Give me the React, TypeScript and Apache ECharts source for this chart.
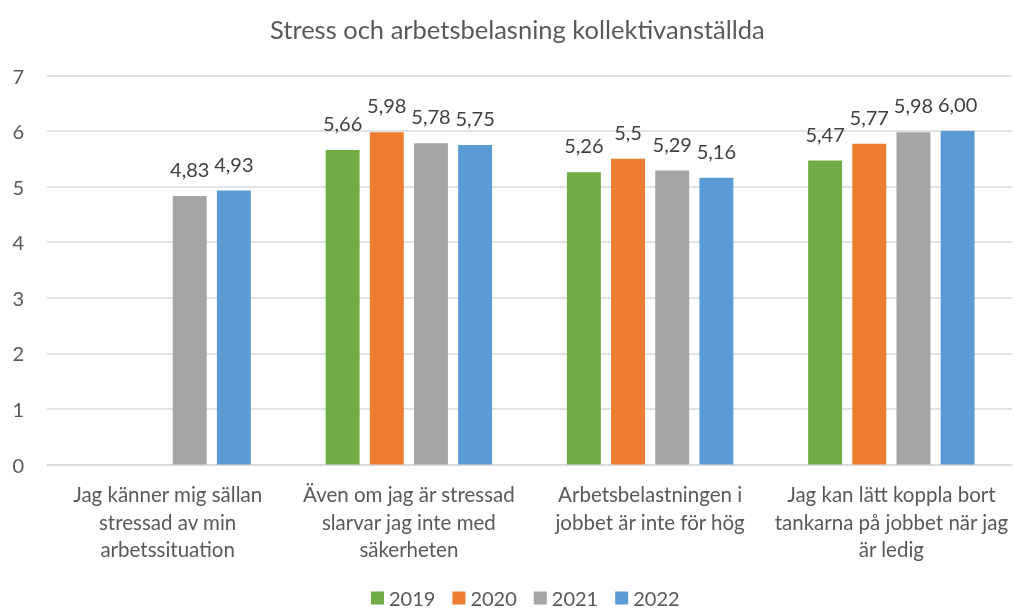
import React, { useEffect, useRef } from "react";
import * as echarts from "echarts";

const categories = [
  "Jag känner mig sällan\nstressad av min\narbetssituation",
  "Även om jag är stressad\nslarvar jag inte med\nsäkerheten",
  "Arbetsbelastningen i\njobbet är inte för hög",
  "Jag kan lätt koppla bort\ntankarna på jobbet när jag\när ledig",
];
const seriesNames = ["2019", "2020", "2021", "2022"];
const colors = ["#70AD47", "#ED7D31", "#A5A5A5", "#5B9BD5"];
const values2019 = [null, 5.66, 5.26, 5.47];
const values2020 = [null, 5.98, 5.5, 5.77];
const values2021 = [4.83, 5.78, 5.29, 5.98];
const values2022 = [4.93, 5.75, 5.16, 6.0];
const labels2019 = ["", "5,66", "5,26", "5,47"];
const labels2020 = ["", "5,98", "5,5", "5,77"];
const labels2021 = ["4,83", "5,78", "5,29", "5,98"];
const labels2022 = ["4,93", "5,75", "5,16", "6,00"];
const yTicks = [0, 1, 2, 3, 4, 5, 6, 7];

const allValues = [values2019, values2020, values2021, values2022];
const allLabels = [labels2019, labels2020, labels2021, labels2022];

const FONT = "Lato, 'Open Sans', sans-serif";
const TEXT = "#595959";

export default function App() {
  const ref = useRef<HTMLDivElement>(null);
  useEffect(() => {
    if (!ref.current) return;
    const chart = echarts.init(ref.current, undefined, { renderer: "svg" });
    chart.setOption({
      animation: false,
      textStyle: { fontFamily: FONT },
      title: {
        text: "Stress och arbetsbelasning kollektivanställda",
        left: 265,
        top: 11,
        textStyle: { fontFamily: FONT, fontSize: 25.5, fontWeight: "normal", color: TEXT },
      },
      legend: {
        top: 588,
        left: 371,
        padding: 0,
        icon: "rect",
        itemWidth: 13,
        itemHeight: 13,
        itemGap: 17,
        textStyle: { fontFamily: FONT, fontSize: 20, color: TEXT },
        data: seriesNames,
      },
      grid: { left: 47, right: 1, top: 75.5, bottom: 145.5, containLabel: false },
      xAxis: {
        type: "category",
        data: categories,
        axisTick: { show: false },
        axisLine: { lineStyle: { color: "#D9D9D9", width: 1.5 } },
        axisLabel: {
          interval: 0,
          fontFamily: FONT,
          fontSize: 20.5,
          color: TEXT,
          lineHeight: 27.5,
          margin: 16,
        },
      },
      yAxis: {
        type: "value",
        min: yTicks[0],
        max: yTicks[yTicks.length - 1],
        interval: 1,
        axisLine: { show: false },
        axisTick: { show: false },
        splitLine: { lineStyle: { color: "#D9D9D9", width: 1.5 } },
        axisLabel: { fontFamily: FONT, fontSize: 20, color: TEXT, margin: 23 },
      },
      series: seriesNames.map((name, i) => ({
        name,
        type: "bar",
        data: allValues[i],
        barGap: "30%",
        barCategoryGap: "31%",
        itemStyle: { color: colors[i] },
        label: {
          show: true,
          position: "top",
          distance: 17,
          fontFamily: FONT,
          fontSize: 20,
          color: "#404040",
          formatter: (p: any) => allLabels[i][p.dataIndex],
        },
      })),
    });
    return () => chart.dispose();
  }, []);
  return (
    <div
      ref={ref}
      style={{ position: "fixed", left: 0, top: 0, width: 1013, height: 610 }}
    />
  );
}
